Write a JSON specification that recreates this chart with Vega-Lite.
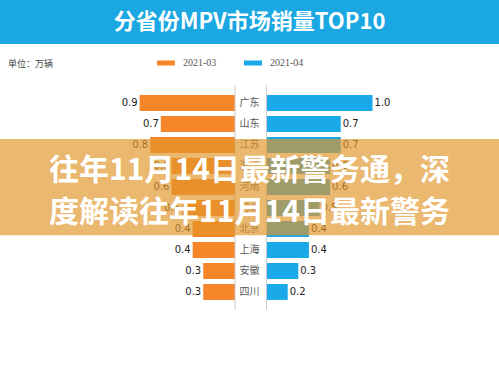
{
  "$schema": "https://vega.github.io/schema/vega-lite/v6.json",
  "padding": 0,
  "autosize": {"type": "pad"},
  "background": "white",
  "config": {
    "view": {"stroke": null},
    "concat": {"spacing": 15},
    "legend": {
      "orient": "none",
      "legendX": 157,
      "legendY": 54,
      "direction": "horizontal",
      "title": null,
      "padding": 0,
      "symbolType": "M-1,-0.28H1V0.28H-1Z",
      "symbolSize": 324,
      "symbolStrokeWidth": 0,
      "symbolOpacity": 1,
      "labelFont": "Liberation Serif",
      "labelFontSize": 10,
      "labelColor": "#555555",
      "labelOffset": 8,
      "columnPadding": 27
    }
  },
  "datasets": {
    "banner": [{"title": "分省份MPV市场销量TOP10"}],
    "rows": [
      {"province": "广东", "m3": 0.9, "m4": 1.0},
      {"province": "山东", "m3": 0.7, "m4": 0.7},
      {"province": "江苏", "m3": 0.8, "m4": 0.7},
      {"province": "浙江", "m3": 0.6, "m4": 0.6},
      {"province": "河南", "m3": 0.6, "m4": 0.6},
      {"province": "河北", "m3": 0.5, "m4": 0.5},
      {"province": "北京", "m3": 0.4, "m4": 0.4},
      {"province": "上海", "m3": 0.4, "m4": 0.4},
      {"province": "安徽", "m3": 0.3, "m4": 0.3},
      {"province": "四川", "m3": 0.3, "m4": 0.2}
    ],
    "axisline": [{"at": 0}],
    "overlay": [{"from": "江苏", "to": "北京"}],
    "overlaytext": [
      {"row": "浙江", "line": "往年11月14日最新警务通，深"},
      {"row": "河北", "line": "度解读往年11月14日最新警务"}
    ]
  },
  "vconcat": [
    {
      "width": 499,
      "height": 44,
      "view": {"fill": "#1AA7E2", "stroke": null},
      "data": {"name": "banner"},
      "mark": {"type": "text", "font": "Noto Sans CJK SC", "fontWeight": "bold", "fontSize": 22, "color": "white", "baseline": "middle"},
      "encoding": {"text": {"field": "title", "type": "nominal"}}
    },
    {
      "width": 499,
      "height": 225,
      "title": {"text": "单位：万辆", "anchor": "start", "fontSize": 9, "font": "Noto Sans CJK SC", "fontWeight": "normal", "color": "#444444", "dx": 8, "offset": 16},
      "encoding": {
        "y": {"type": "nominal", "axis": null, "scale": {"domain": ["广东", "山东", "江苏", "浙江", "河南", "河北", "北京", "上海", "安徽", "四川"], "paddingInner": 0.24, "paddingOuter": 0.48}}
      },
      "layer": [
        {
          "layer": [
            {
              "data": {"name": "rows"},
              "mark": {"type": "bar"},
              "encoding": {
                "y": {"field": "province", "type": "nominal"},
                "x": {"field": "m3", "type": "quantitative", "axis": null, "scale": {"domain": [-2.49, 2.217], "reverse": true, "zero": false, "nice": false}},
                "color": {"datum": "2021-03", "type": "nominal", "scale": {"domain": ["2021-03", "2021-04"], "range": ["#F7862B", "#1AA9E8"]}}
              }
            },
            {
              "data": {"name": "rows"},
              "mark": {"type": "text", "align": "right", "baseline": "middle", "dx": -2, "font": "DejaVu Sans", "fontSize": 10, "color": "#222222"},
              "encoding": {
                "y": {"field": "province", "type": "nominal"},
                "x": {"field": "m3", "type": "quantitative"},
                "text": {"field": "m3", "type": "quantitative", "format": ".1f"}
              }
            },
            {
              "data": {"name": "axisline"},
              "mark": {"type": "rule", "color": "#CCCCCC", "strokeWidth": 1},
              "encoding": {"x": {"field": "at", "type": "quantitative"}}
            }
          ]
        },
        {
          "layer": [
            {
              "data": {"name": "rows"},
              "mark": {"type": "bar"},
              "encoding": {
                "y": {"field": "province", "type": "nominal"},
                "x": {"field": "m4", "type": "quantitative", "axis": null, "scale": {"domain": [-2.514, 2.193], "zero": false, "nice": false}},
                "color": {"datum": "2021-04", "type": "nominal"}
              }
            },
            {
              "data": {"name": "rows"},
              "mark": {"type": "text", "align": "left", "baseline": "middle", "dx": 2, "font": "DejaVu Sans", "fontSize": 10, "color": "#222222"},
              "encoding": {
                "y": {"field": "province", "type": "nominal"},
                "x": {"field": "m4", "type": "quantitative"},
                "text": {"field": "m4", "type": "quantitative", "format": ".1f"}
              }
            },
            {
              "data": {"name": "axisline"},
              "mark": {"type": "rule", "color": "#CCCCCC", "strokeWidth": 1},
              "encoding": {"x": {"field": "at", "type": "quantitative"}}
            }
          ]
        },
        {
          "data": {"name": "rows"},
          "mark": {"type": "text", "align": "center", "baseline": "middle", "font": "Noto Sans CJK SC", "fontSize": 10, "color": "#555555"},
          "encoding": {
            "y": {"field": "province", "type": "nominal"},
            "text": {"field": "province", "type": "nominal"}
          }
        },
        {
          "data": {"name": "overlay"},
          "mark": {"type": "rect", "color": "#E1952A", "opacity": 0.67},
          "encoding": {
            "y": {"field": "from", "type": "nominal", "bandPosition": 0.12},
            "y2": {"field": "to", "bandPosition": 0.9}
          }
        },
        {
          "data": {"name": "overlaytext"},
          "mark": {"type": "text", "align": "center", "baseline": "middle", "dy": 5, "font": "Noto Sans CJK SC", "fontWeight": "bold", "fontSize": 30, "color": "white"},
          "encoding": {
            "y": {"field": "row", "type": "nominal"},
            "text": {"field": "line", "type": "nominal"}
          }
        }
      ],
      "resolve": {"scale": {"x": "independent"}}
    }
  ]
}
